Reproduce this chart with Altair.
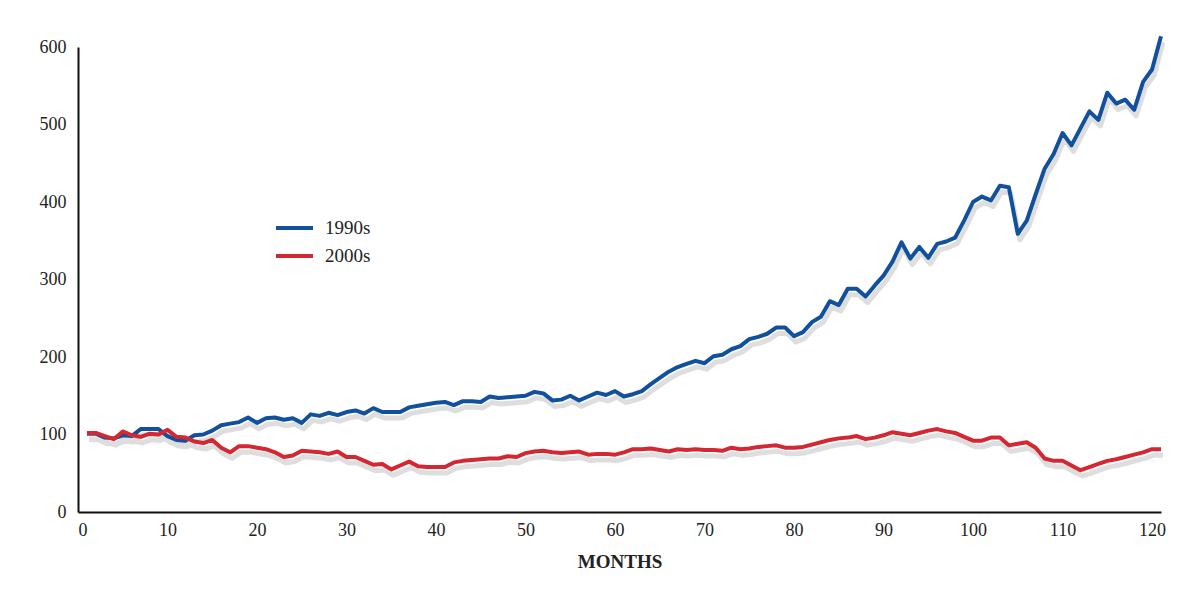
import altair as alt
import pandas as pd

months = list(range(1, 122))

s1990 = [101, 101, 96, 95, 99, 98, 107, 107, 107, 98,
         93, 92, 99, 100, 105, 112, 114, 116, 122, 115,
         121, 122, 119, 121, 115, 126, 124, 128, 125, 129,
         131, 127, 134, 129, 129, 129, 135, 137, 139, 141,
         142, 138, 143, 143, 142, 149, 147, 148, 149, 150,
         155, 153, 144, 145, 150, 144, 149, 154, 151, 156,
         149, 152, 156, 165, 173, 181, 187, 191, 195, 192,
         201, 203, 210, 214, 223, 226, 230, 238, 238, 227,
         232, 245, 252, 272, 267, 288, 288, 278, 292, 305,
         323, 348, 327, 342, 328, 346, 349, 354, 376, 400,
         407, 402, 421, 419, 359, 376, 410, 443, 462, 489,
         473, 495, 517, 506, 541, 527, 532, 519, 555, 571,
         614]

s2000 = [102, 102, 98, 94, 104, 99, 97, 101, 100, 106,
         97, 96, 91, 89, 93, 83, 77, 85, 85, 83,
         81, 77, 71, 73, 79, 78, 77, 75, 78, 71,
         71, 66, 61, 62, 55, 60, 65, 59, 58, 58,
         58, 64, 66, 67, 68, 69, 69, 72, 71, 76,
         78, 79, 77, 76, 77, 78, 74, 75, 75, 74,
         77, 81, 81, 82, 80, 78, 81, 80, 81, 80,
         80, 79, 83, 81, 82, 84, 85, 86, 83, 83,
         84, 87, 90, 93, 95, 96, 98, 94, 96, 99,
         103, 101, 99, 102, 105, 107, 104, 102, 97, 92,
         92, 96, 96, 86, 88, 90, 83, 69, 66, 66,
         60, 54, 58, 62, 66, 68, 71, 74, 77, 81,
         81]

series_names = ["1990s", "2000s"]
series_colors = ["#11509c", "#d42731"]
x_ticks = [0, 10, 20, 30, 40, 50, 60, 70, 80, 90, 100, 110, 120]
y_ticks = [0, 100, 200, 300, 400, 500, 600]

rows = []
for name, vals in zip(series_names, [s1990, s2000]):
    for m, v in zip(months, vals):
        rows.append({"month": m, "value": v, "series": name})
df = pd.DataFrame(rows)

FONT = "Liberation Serif"

x_enc = alt.X("month:Q",
              scale=alt.Scale(domain=[0, 121], nice=False, zero=False),
              axis=alt.Axis(values=x_ticks, title="MONTHS", grid=False,
                            ticks=False, labelPadding=9,
                            labelFont=FONT, titleFont=FONT,
                            labelColor="#222", titleColor="#222",
                            domainColor="#111", domainWidth=2,
                            titleFontWeight="bold", titleFontSize=19,
                            titlePadding=13, labelFontSize=18))
y_enc = alt.Y("value:Q",
              scale=alt.Scale(domain=[0, 600], nice=False),
              axis=alt.Axis(values=y_ticks, title=None, grid=False,
                            ticks=False, labelPadding=12, labelFontSize=18,
                            labelFont=FONT, labelColor="#222",
                            domainColor="#111", domainWidth=2))

base = alt.Chart(df)

shadow = base.mark_line(color="#dedede", strokeWidth=5, xOffset=2, yOffset=6,
                        strokeJoin="round").encode(
    x=x_enc, y=y_enc, detail="series:N")

lines = base.mark_line(strokeWidth=4, strokeJoin="round").encode(
    x=x_enc, y=y_enc,
    color=alt.Color("series:N",
                    scale=alt.Scale(domain=series_names, range=series_colors),
                    legend=alt.Legend(title=None, orient="none",
                                      legendX=196, legendY=168,
                                      symbolType="stroke", symbolSize=1369,
                                      symbolStrokeWidth=4, clipHeight=26,
                                      labelFontSize=19, labelOffset=10,
                                      labelFont=FONT, labelColor="#222")))

chart = alt.layer(shadow, lines).properties(
    width=1083, height=465,
    background="white",
    autosize=alt.AutoSizeParams(type="none"),
    padding={"left": 70, "top": 39, "right": 30, "bottom": 80},
).configure_view(stroke=None)

chart.save("out.html", embed_options={"renderer": "svg", "actions": False})
